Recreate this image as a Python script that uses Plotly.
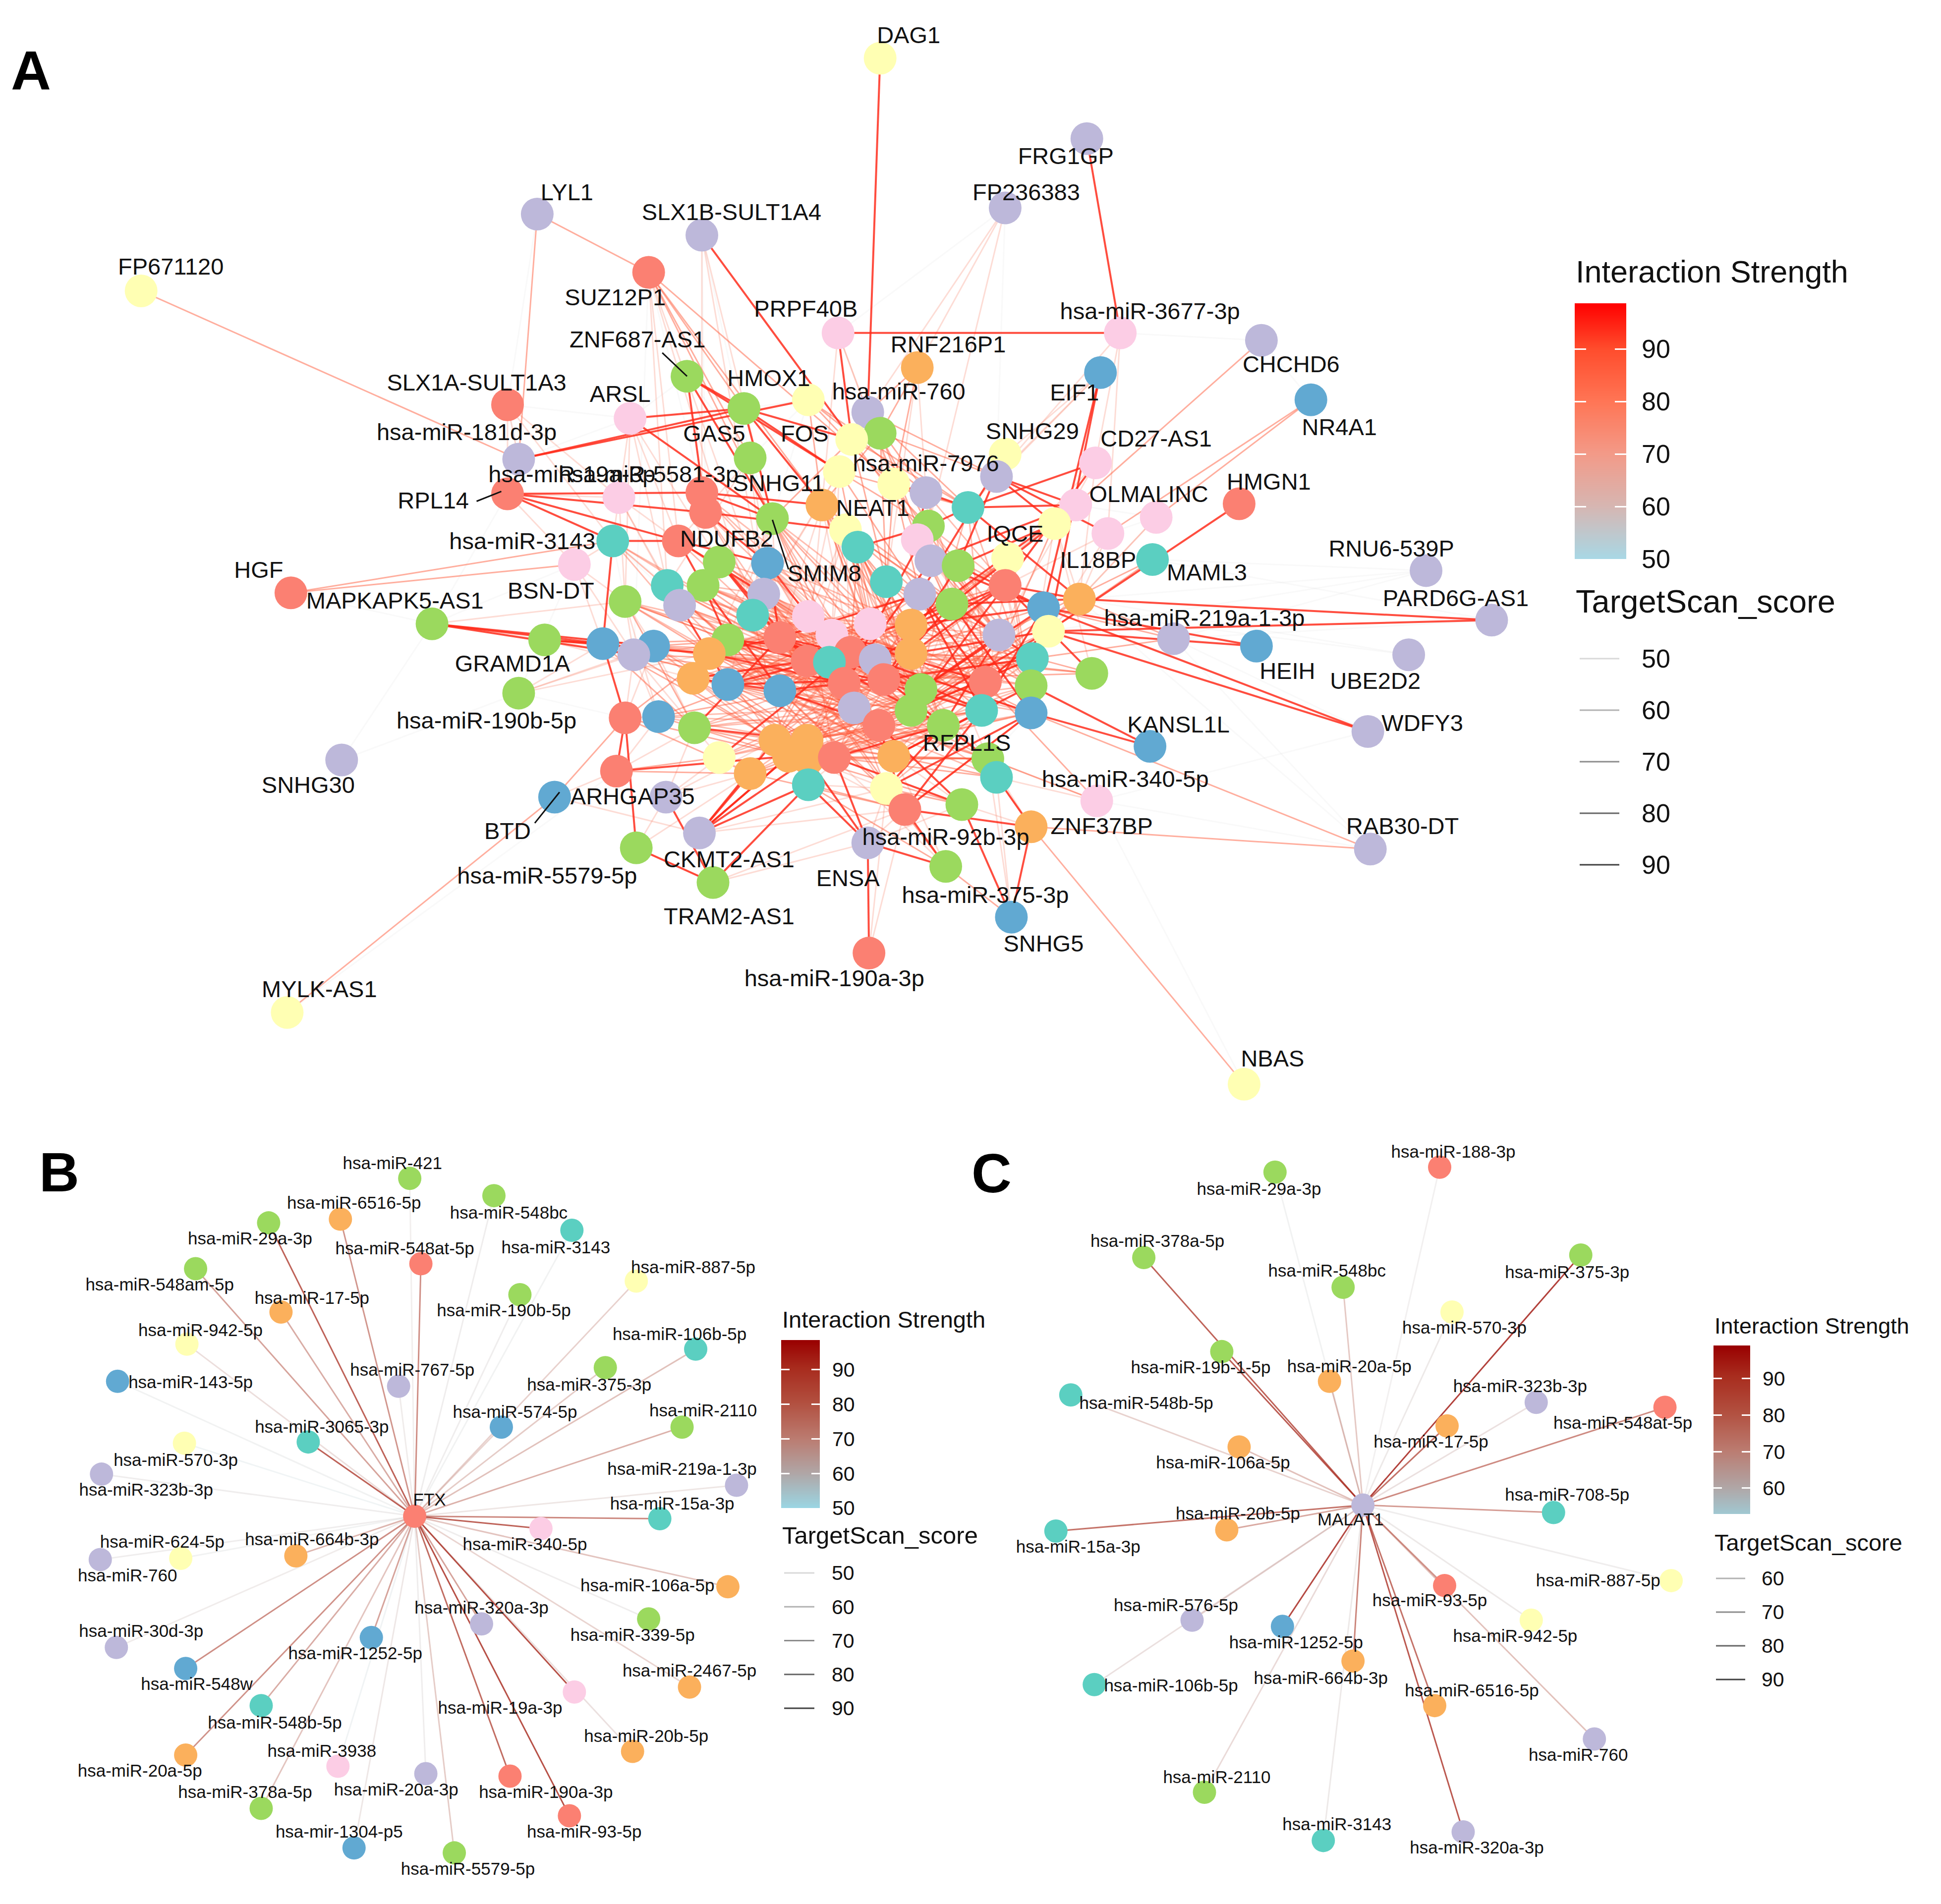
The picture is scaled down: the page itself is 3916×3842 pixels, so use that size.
#!/usr/bin/python3

import numpy
import plotly.graph_objs as go
from plotly.colors import sample_colorscale

WIDTH = 3916
HEIGHT = 3842
# the page keeps its default 8 px body margin, the figure fits inside it
PAGE_MARGIN = 8
FIG_W = WIDTH - 2 * PAGE_MARGIN
FIG_H = HEIGHT - 2 * PAGE_MARGIN
# node and label positions are read in a 1568 wide copy of the picture
VIEW_W = 1568
VIEW_H = 1538.3

GROUP_COLORS = dict(G = '#9BD95E', O = '#FBB05C', T = '#5BCFC1', B = '#61A9D2',
                    L = '#BDB8DA', P = '#FCCDE5', Y = '#FFFFB3', R = '#FB8072')

SCALE_A = [[0, '#A8D8E6'], [.206, '#D6B6B2'], [.412, '#F39A88'],
           [.618, '#FF7555'], [.823, '#FF4C2C'], [1, '#FF0000']]
SCALE_B = [[0, '#9AD6E4'], [.208, '#B0A6A6'], [.417, '#BB7B70'],
           [.625, '#B25040'], [.833, '#A82C1E'], [1, '#990000']]

# ---------------- panel A ----------------
A_X = [711, 434, 567, 524, 114, 878, 812, 677, 905, 1019, 889, 1059, 741, 555, 410, 509, 601, 653, 701, 711,
       688, 419, 606, 678, 812, 885, 805, 722, 748, 410, 500, 567, 570, 664, 782, 869, 1001, 934, 624, 852,
       750, 683, 895, 495, 548, 741, 693, 931, 752, 814, 774, 581, 620, 464, 1152, 539, 568, 716, 812, 235,
       617, 743, 872, 843, 505, 549, 769, 608, 653, 703, 349, 1205, 736, 847, 672, 807, 630, 948, 440, 588,
       487, 528, 1015, 687, 573, 512, 736, 1138, 834, 707, 652, 670, 882, 560, 714, 796, 682, 588, 833, 744,
       630, 419, 690, 736, 793, 833, 532, 505, 710, 762, 561, 1105, 626, 652, 929, 637, 653, 674, 722, 581,
       276, 798, 498, 606, 805, 653, 716, 448, 538, 886, 777, 731, 833, 565, 701, 514, 1107, 764, 576, 817,
       702, 232, 1005]
A_Y = [47, 173, 190, 220, 235, 112, 168, 269, 269, 275, 301, 323, 297, 304, 327, 338, 330, 323, 333, 350,
       355, 371, 370, 381, 367, 374, 385, 391, 398, 399, 402, 398, 414, 408, 410, 408, 407, 418, 419, 423,
       425, 428, 431, 437, 437, 436, 442, 452, 453, 451, 457, 454, 455, 456, 461, 473, 473, 470, 473, 479,
       480, 480, 484, 491, 486, 489, 488, 497, 498, 504, 504, 501, 505, 510, 513, 513, 515, 516, 517, 517,
       520, 522, 522, 527, 528, 529, 528, 529, 532, 533, 534, 535, 544, 548, 549, 551, 552, 553, 554, 557,
       558, 560, 572, 574, 574, 576, 579, 580, 586, 586, 588, 591, 598, 598, 603, 611, 613, 612, 611, 612,
       614, 613, 623, 625, 628, 634, 637, 644, 644, 647, 650, 654, 668, 673, 681, 685, 686, 700, 713, 741,
       770, 818, 876]
A_GROUP = list('YLLRYLLPPLBBOGRPGYLG'
               'YLGYYPLYLRPRROTPRPGY'
               'GYPTRPTTLYGGBPLTGTRR'
               'LLOBGLGTPPGLOYPLRLGG'
               'BBBROLOLTLRTGORRRBGG'
               'BGLGTBBRRGGLOOBOORO'
               'YLGROTTYBLPGROLLGLGGB'
               'RYY')

A_LABEL = ['DAG1', 'FRG1GP', 'FP236383', 'LYL1', 'SLX1B-SULT1A4', 'FP671120', 'SUZ12P1', 'PRPF40B',
           'hsa-miR-3677-3p', 'ZNF687-AS1', 'RNF216P1', 'CHCHD6', 'HMOX1', 'SLX1A-SULT1A3', 'ARSL', 'EIF1',
           'hsa-miR-760', 'NR4A1', 'hsa-miR-181d-3p', 'GAS5', 'FOS', 'CD27-AS1', 'SNHG29', 'hsa-miR-7976',
           'hsa-miR-19a-3p', 'hsa-miR-5581-3p', 'SNHG11', 'HMGN1', 'OLMALINC', 'RPL14', 'NEAT1', 'hsa-miR-3143',
           'NDUFB2', 'IQCE', 'IL18BP', 'RNU6-539P', 'SMIM8', 'MAML3', 'HGF', 'BSN-DT', 'MAPKAPK5-AS1',
           'PARD6G-AS1', 'hsa-miR-219a-1-3p', 'HEIH', 'GRAMD1A', 'UBE2D2', 'hsa-miR-190b-5p', 'WDFY3',
           'KANSL1L', 'RFPL1S', 'SNHG30', 'hsa-miR-340-5p', 'ARHGAP35', 'RAB30-DT', 'ZNF37BP', 'BTD',
           'hsa-miR-92b-3p', 'CKMT2-AS1', 'hsa-miR-5579-5p', 'ENSA', 'hsa-miR-375-3p', 'TRAM2-AS1', 'SNHG5',
           'hsa-miR-190a-3p', 'MYLK-AS1', 'NBAS']
A_LABEL_X = [734, 861, 829, 458, 591, 138, 497, 651, 929, 515, 766, 1043, 621, 385, 501, 868, 726, 1082, 377,
             577, 650, 934, 834, 748, 462, 524, 629, 1025, 928, 350, 705, 422, 587, 820, 887, 1124, 666, 975,
             209, 445, 319, 1176, 973, 1040, 414, 1111, 393, 1149, 952, 781, 249, 909, 511, 1133, 890, 410,
             764, 589, 442, 685, 796, 589, 843, 674, 258, 1028]
A_LABEL_Y = [30, 128, 157, 157, 173, 217, 242, 251, 253, 276, 280, 296, 307, 311, 320, 319, 318, 347, 351,
             352, 352, 356, 350, 376, 385, 385, 392, 391, 401, 406, 412, 439, 437, 433, 454, 445, 465, 464,
             462, 479, 487, 485, 501, 544, 538, 552, 584, 586, 587, 602, 636, 631, 645, 669, 669, 673,
             678, 696, 709, 711, 725, 742, 764, 792, 801, 857]

# label leader segments, from label to node
A_LEADER_X = [[535, 555], [385, 405], [624, 637], [432, 452]]
A_LEADER_Y = [[285, 304], [405, 397], [420, 460], [665, 640]]

# links by node index, hub: partners
A_LINKS_95 = {0: [18], 5: [8], 7: [8, 20], 2: [20], 10: [73, 63], 36: [73], 71: [73, 62], 82: [73, 63],
              111: [63, 73], 114: [105, 98], 70: [80, 81, 85], 78: [80, 84], 43: [80, 44], 80: [107],
              21: [16, 17], 15: [16, 38], 13: [16, 32, 38, 23], 16: [38, 33, 23, 20], 29: [31, 32, 43, 44],
              133: [112, 113, 115, 116, 123, 125], 128: [138], 140: [134], 134: [116, 125, 117],
              122: [115, 107], 31: [38, 33], 32: [52, 41], 44: [52, 56, 60], 51: [76, 90], 56: [79, 100],
              52: [68, 76], 65: [97], 79: [90, 83], 84: [76, 96], 93: [90, 100], 97: [83, 94], 100: [96, 108],
              110: [76, 113], 119: [83], 76: [89, 99, 109, 61], 74: [86, 95], 90: [66, 104],
              83: [104, 105, 121], 94: [50, 66, 88], 96: [40, 48], 58: [72, 86, 89, 103], 61: [95, 104],
              66: [88, 105], 75: [99, 109], 48: [63], 50: [63], 40: [34, 46], 34: [28, 35, 62], 28: [27, 45],
              26: [35, 42, 39], 24: [61, 50], 25: [34, 58], 35: [48, 72], 39: [50, 66], 62: [66, 58],
              63: [99, 104, 72], 73: [86, 95, 103], 88: [103], 92: [58], 98: [118], 104: [118, 131],
              105: [126, 131], 109: [117, 126], 108: [131, 130], 130: [117], 137: [131, 134],
              132: [131, 124], 139: [132, 130], 138: [125, 135], 135: [107]}
A_LINKS_78 = {60: [91, 102, 108, 99, 103], 61: [74, 76, 84, 97, 100, 117], 65: [90, 91, 102, 117, 94],
              67: [72, 91, 108, 115, 86], 68: [75, 103, 117, 88, 84], 69: [84, 93, 97, 100, 112, 113],
              72: [76, 84, 97, 90, 100, 115], 74: [97, 100, 112, 123], 75: [76, 91, 96, 102, 117, 118],
              76: [91, 118, 126, 103], 79: [72, 86, 94, 95, 118], 83: [93, 100, 112, 116], 84: [94, 95, 103, 112],
              86: [90, 91, 97, 117], 88: [96, 102, 108, 118], 89: [93, 97, 110, 112, 116], 90: [98, 103, 109, 118],
              91: [99, 104, 105, 109, 118], 93: [94, 108, 116], 94: [110, 115, 119, 123],
              95: [97, 100, 113, 116, 117], 96: [105, 109, 121, 124], 97: [103, 109, 116], 98: [102, 117, 108],
              99: [100, 112, 116, 123], 100: [103, 121, 124], 102: [110, 119, 121, 126], 103: [110, 115, 116, 119],
              104: [108, 113, 115, 126], 105: [115, 117, 123, 131], 106: [102, 108, 118], 108: [113, 119, 121],
              109: [112, 115, 123], 81: [90, 94, 96, 115], 85: [76, 100, 102], 64: [76, 96, 100], 55: [67, 79, 96],
              56: [60, 83, 86], 51: [72, 74, 83, 89], 44: [74, 83, 90, 94], 52: [72, 86, 89, 102], 32: [76, 90, 83],
              31: [74, 69, 89], 43: [76, 79, 90, 84], 38: [72, 86, 83], 33: [89, 94, 99], 41: [94, 99, 103],
              46: [94, 103, 109], 57: [88, 98, 103], 45: [66, 88, 98], 40: [75, 58, 88], 28: [58, 95, 66],
              34: [95, 98, 103], 49: [98, 105, 103]}
A_LINKS_75 = {4: [21], 1: [3, 21], 3: [16, 22, 33, 38, 27], 59: [43, 53], 141: [127], 142: [132], 11: [37, 42],
              9: [35], 12: [18, 27, 19], 17: [28, 33, 40, 34], 18: [28, 40, 34, 26, 45], 19: [33, 26, 48, 57],
              20: [38, 34, 57, 75], 23: [34, 40, 61, 69], 27: [34, 57, 61, 75], 33: [57, 69, 72, 86, 75],
              38: [69, 74, 89, 102], 41: [61, 66, 75, 89], 45: [58, 75, 95], 46: [72, 86, 99, 83],
              57: [66, 75, 95, 109], 60: [90, 96, 94, 86], 55: [76, 90, 83, 100], 56: [74, 89, 96],
              64: [79, 90, 84, 110], 67: [83, 94, 99], 68: [86, 99, 102, 95], 69: [104, 109, 95, 58],
              74: [99, 108, 103], 76: [102, 108, 131], 79: [102, 117, 108], 84: [89, 102, 118],
              85: [90, 96, 112], 81: [76, 83, 113], 80: [79, 84, 110, 112], 93: [102, 117],
              97: [117, 108, 118], 100: [118, 126, 131], 106: [90, 96, 115], 107: [115, 123, 84],
              110: [117, 118], 112: [94, 95, 103], 113: [95, 99, 104], 115: [109, 121], 116: [121, 130],
              117: [124, 121], 118: [121, 124], 123: [131, 108], 125: [131, 137], 126: [137, 130],
              72: [92, 98], 86: [92, 88, 105], 89: [98, 88, 105, 63], 83: [88, 92], 94: [92, 58],
              95: [73, 39], 99: [73, 62], 103: [62, 63], 49: [66, 72, 89], 47: [73, 75], 77: [63, 62, 88],
              129: [95, 121], 136: [132, 105], 127: [107], 122: [119, 123], 137: [139]}
A_LINKS_65 = {3: [44, 55, 60, 67], 2: [31, 38, 60], 6: [18, 12, 40], 14: [29, 21, 30, 43],
              15: [30, 44, 51, 64, 55], 30: [43, 44, 55, 64, 65], 53: [43, 64, 80, 85], 29: [53, 30],
              22: [44, 55, 60, 76], 23: [60, 67, 68, 74], 41: [68, 74, 90, 83], 33: [76, 90, 83, 94],
              38: [84, 79, 97, 100], 52: [83, 94, 96, 108], 60: [74, 83, 117], 67: [90, 102, 118],
              68: [94, 108, 109], 69: [99, 121, 124], 74: [102, 109, 103], 89: [95, 104, 121], 61: [103, 121],
              48: [75, 104, 98], 50: [95, 88, 104], 66: [103, 98], 75: [88, 98, 105], 58: [98, 105, 104],
              39: [62, 92, 88], 42: [62, 73, 58], 37: [62, 73], 35: [39, 49, 66], 25: [62, 49, 75],
              8: [25, 42, 34], 10: [34, 26, 24], 12: [40, 57], 7: [18, 33, 27], 64: [81, 85, 106],
              81: [97, 110, 107], 85: [106, 110, 107], 106: [107, 122], 110: [122, 128, 119],
              119: [128, 123], 123: [128, 135], 112: [128, 133], 125: [126, 108], 116: [126, 131],
              117: [130, 137], 118: [130, 137], 126: [134, 133], 124: [129, 132], 121: [129, 132],
              130: [134, 132], 131: [134, 133], 101: [85, 80, 84, 81], 78: [85, 93], 70: [78, 64],
              127: [122, 133], 135: [128, 138], 138: [134, 131], 140: [131, 126], 139: [121, 124]}
A_LINKS_52 = {2: [32, 22], 3: [85, 31], 6: [26, 7], 9: [8, 11], 14: [15, 21], 54: [62, 73, 77, 47],
              87: [63, 62], 136: [129, 62, 77], 120: [101, 70], 70: [29, 53], 101: [107, 53], 141: [122],
              1: [14], 15: [21, 13], 13: [22], 16: [17], 17: [22, 38], 22: [38], 43: [64, 55, 65],
              71: [77, 47], 82: [77], 111: [129, 77], 76: [60, 67], 90: [74, 68], 83: [69, 74], 96: [83, 102],
              94: [72, 86], 99: [103, 109], 104: [109, 98], 105: [121, 98], 72: [61, 50], 86: [66, 99],
              57: [61, 48], 45: [40, 48], 46: [41, 57], 26: [24, 34], 37: [35, 42], 142: [129], 59: [70]}

# ---------------- panel B ----------------
B_HUB = [335, 1225]
B_NAME = ['hsa-miR-421', 'hsa-miR-548bc', 'hsa-miR-6516-5p', 'hsa-miR-3143', 'hsa-miR-29a-3p', 'hsa-miR-548at-5p',
          'hsa-miR-887-5p', 'hsa-miR-548am-5p', 'hsa-miR-190b-5p', 'hsa-miR-17-5p', 'hsa-miR-942-5p',
          'hsa-miR-106b-5p', 'hsa-miR-143-5p', 'hsa-miR-375-3p', 'hsa-miR-767-5p', 'hsa-miR-574-5p', 'hsa-miR-2110',
          'hsa-miR-3065-3p', 'hsa-miR-570-3p', 'hsa-miR-323b-3p', 'hsa-miR-219a-1-3p', 'hsa-miR-15a-3p',
          'hsa-miR-340-5p', 'hsa-miR-664b-3p', 'hsa-miR-624-5p', 'hsa-miR-760', 'hsa-miR-106a-5p', 'hsa-miR-320a-3p',
          'hsa-miR-339-5p', 'hsa-miR-30d-3p', 'hsa-miR-1252-5p', 'hsa-miR-548w', 'hsa-miR-2467-5p', 'hsa-miR-19a-3p',
          'hsa-miR-548b-5p', 'hsa-miR-20b-5p', 'hsa-miR-3938', 'hsa-miR-20a-5p', 'hsa-miR-20a-3p', 'hsa-miR-190a-3p',
          'hsa-miR-378a-5p', 'hsa-miR-93-5p', 'hsa-mir-1304-p5', 'hsa-miR-5579-5p']
B_X = [331, 399, 275, 462, 217, 340, 514, 158, 420, 227, 151, 562, 95, 489, 322, 405, 551, 249, 149, 82, 595, 533,
       437, 239, 146, 81, 588, 389, 524, 94, 300, 150, 557, 464, 211, 511, 273, 150, 344, 412, 211, 460, 286, 367]
B_Y = [952, 966, 985, 994, 988, 1021, 1035, 1025, 1046, 1060, 1086, 1090, 1116, 1105, 1120, 1153, 1153, 1165, 1166,
       1191, 1200, 1227, 1235, 1257, 1259, 1260, 1282, 1312, 1308, 1331, 1323, 1348, 1363, 1367, 1378, 1415, 1427,
       1418, 1433, 1435, 1461, 1467, 1493, 1497]
B_GROUP = list('GGOTGRYGGOYTBGLBGTYLLTPOYLOLGLBBOPTOPOLRGRBG')
B_LABEL_X = [317, 411, 286, 449, 202, 327, 560, 129, 407, 252, 162, 549, 154, 476, 333, 416, 568, 260, 142, 118, 551,
             543, 424, 252, 131, 103, 523, 389, 511, 114, 287, 159, 557, 404, 222, 522, 260, 113, 320, 441, 198, 472,
             274, 378]
B_LABEL_Y = [941, 981, 973, 1009, 1002, 1010, 1025, 1039, 1060, 1050, 1076, 1079, 1118, 1120, 1108, 1142, 1141, 1154,
             1181, 1205, 1188, 1216, 1249, 1245, 1247, 1274, 1282, 1300, 1322, 1319, 1337, 1362, 1351, 1381, 1393,
             1404, 1416, 1432, 1447, 1449, 1449, 1481, 1481, 1511]
B_STRENGTH = [62, 60, 82, 58, 90, 86, 72, 80, 60, 78, 68, 74, 58, 72, 62, 70, 78, 90, 55, 60, 65, 84, 90, 76, 58, 60,
              74, 80, 60, 62, 80, 84, 70, 92, 78, 66, 56, 82, 60, 88, 74, 92, 64, 72]
B_SCORE = [50, 52, 75, 50, 85, 75, 60, 72, 52, 70, 56, 65, 50, 62, 52, 60, 68, 85, 50, 52, 54, 78, 85, 68, 50, 52,
           64, 72, 52, 52, 72, 76, 60, 88, 70, 56, 50, 76, 52, 84, 64, 88, 54, 62]

# ---------------- panel C ----------------
C_HUB = [1101, 1216]
C_NAME = ['hsa-miR-188-3p', 'hsa-miR-29a-3p', 'hsa-miR-378a-5p', 'hsa-miR-375-3p', 'hsa-miR-548bc', 'hsa-miR-570-3p',
          'hsa-miR-19b-1-5p', 'hsa-miR-20a-5p', 'hsa-miR-323b-3p', 'hsa-miR-548b-5p', 'hsa-miR-548at-5p',
          'hsa-miR-17-5p', 'hsa-miR-106a-5p', 'hsa-miR-708-5p', 'hsa-miR-20b-5p', 'hsa-miR-15a-3p', 'hsa-miR-887-5p',
          'hsa-miR-93-5p', 'hsa-miR-576-5p', 'hsa-miR-942-5p', 'hsa-miR-1252-5p', 'hsa-miR-664b-3p', 'hsa-miR-106b-5p',
          'hsa-miR-6516-5p', 'hsa-miR-760', 'hsa-miR-2110', 'hsa-miR-3143', 'hsa-miR-320a-3p']
C_X = [1163, 1030, 924, 1277, 1085, 1173, 987, 1074, 1241, 865, 1345, 1169, 1001, 1255, 991, 853, 1350, 1167, 963,
       1237, 1036, 1093, 884, 1159, 1288, 973, 1069, 1182]
C_Y = [943, 947, 1016, 1014, 1040, 1060, 1092, 1116, 1133, 1127, 1137, 1152, 1169, 1222, 1236, 1237, 1277, 1281, 1309,
       1309, 1314, 1342, 1361, 1378, 1405, 1448, 1487, 1480]
C_GROUP = list('RGGGGYGOLTROOTOTYRLYBOTOLGTL')
C_LABEL_X = [1174, 1017, 935, 1266, 1072, 1183, 970, 1090, 1228, 926, 1311, 1156, 988, 1266, 1000, 871, 1291, 1155,
             950, 1224, 1047, 1067, 946, 1189, 1275, 983, 1080, 1193]
C_LABEL_Y = [932, 962, 1004, 1029, 1028, 1074, 1106, 1105, 1121, 1135, 1151, 1166, 1183, 1209, 1224, 1251, 1278, 1294,
             1298, 1323, 1328, 1357, 1363, 1367, 1419, 1437, 1475, 1494]
C_STRENGTH = [60, 58, 90, 94, 74, 62, 92, 76, 66, 72, 86, 88, 76, 84, 80, 90, 60, 84, 68, 62, 94, 86, 66, 88, 76, 68,
              62, 92]
C_SCORE = [50, 50, 85, 90, 62, 54, 85, 66, 56, 60, 76, 82, 64, 72, 70, 80, 52, 74, 58, 54, 88, 78, 56, 82, 64, 58,
           54, 86]

LEGEND_TICKS = [50, 60, 70, 80, 90]
LEGEND_TICKS_C = [60, 70, 80, 90]


def links_to_xy(links):
    xs, ys = [], []
    for hub, partners in links.items():
        for p in partners:
            xs += [A_X[hub], A_X[p], None]
            ys += [A_Y[hub], A_Y[p], None]
    return xs, ys


def score_alpha(score):
    return (score - 40) / 60


def edge_color(strength, score, scale, top):
    rgb = sample_colorscale(scale, [(strength - 50) / (top - 50)], colortype = 'rgb')[0]
    return rgb.replace('rgb(', 'rgba(').replace(')', ', %.2f)' % score_alpha(score))


def text_trace(x, y, text, size):
    return go.Scatter(x = x, y = y, text = text, mode = 'text', textposition = 'middle center',
                      textfont = dict(family = 'Liberation Sans', size = size, color = '#111111'),
                      hoverinfo = 'skip')


def node_trace(x, y, groups, size):
    return go.Scatter(x = x, y = y, mode = 'markers', hoverinfo = 'skip',
                      marker = dict(size = size, color = [GROUP_COLORS[g] for g in groups],
                                    line = dict(width = 0)))


def star_traces(hub, xs, ys, strengths, scores, scale, top):
    traces = []
    order = numpy.argsort(scores)
    for i in order:
        traces.append(go.Scatter(x = [hub[0], xs[i]], y = [hub[1], ys[i]], mode = 'lines', hoverinfo = 'skip',
                                 line = dict(width = 3, color = edge_color(strengths[i], scores[i], scale, top))))
    return traces


def paper_x(px):
    return (px - PAGE_MARGIN) / FIG_W


def paper_y(py):
    return 1 - (py - PAGE_MARGIN) / FIG_H


def dom_x(left, right):
    return [paper_x(left), paper_x(right)]


def dom_y(top, bottom):
    return [paper_y(bottom), paper_y(top)]


fig = go.Figure()

# panel A links, weak first
for links, strength, score, width in [(A_LINKS_52, 56, 46, 3), (A_LINKS_65, 74, 58, 3), (A_LINKS_78, 86, 64, 3),
                                      (A_LINKS_75, 86, 70, 3), (A_LINKS_95, 94, 90, 4)]:
    lx, ly = links_to_xy(links)
    fig.add_trace(go.Scatter(x = lx, y = ly, mode = 'lines', hoverinfo = 'skip',
                             line = dict(width = width, color = edge_color(strength, score, SCALE_A, 98.7))))

fig.add_trace(node_trace(A_X, A_Y, A_GROUP, 66))
for lead_x, lead_y in zip(A_LEADER_X, A_LEADER_Y):
    fig.add_trace(go.Scatter(x = lead_x, y = lead_y, mode = 'lines', hoverinfo = 'skip',
                             line = dict(width = 3, color = '#111111')))
fig.add_trace(text_trace(A_LABEL_X, A_LABEL_Y, A_LABEL, 47))

# panels B and C
for trace in star_traces(B_HUB, B_X, B_Y, B_STRENGTH, B_SCORE, SCALE_B, 98.6):
    fig.add_trace(trace)
fig.add_trace(node_trace(B_X + B_HUB[:1], B_Y + B_HUB[1:], B_GROUP + ['R'], 47))
fig.add_trace(text_trace(B_LABEL_X + [347], B_LABEL_Y + [1213], B_NAME + ['FTX'], 35))

for trace in star_traces(C_HUB, C_X, C_Y, C_STRENGTH, C_SCORE, SCALE_B, 99.1):
    fig.add_trace(trace)
fig.add_trace(node_trace(C_X + C_HUB[:1], C_Y + C_HUB[1:], C_GROUP + ['L'], 47))
fig.add_trace(text_trace(C_LABEL_X + [1091], C_LABEL_Y + [1229], C_NAME + ['MALAT1'], 35))

view_per_px_x = VIEW_W / WIDTH
view_per_px_y = VIEW_H / HEIGHT
# the default template turns automargin on, which would shrink the plot area
layout = dict(width = FIG_W, height = FIG_H, margin = dict(l = 0, r = 0, t = 0, b = 0, autoexpand = False),
              paper_bgcolor = 'white', plot_bgcolor = 'white', showlegend = False,
              font = dict(family = 'Liberation Sans', color = '#111111'),
              xaxis = dict(range = [PAGE_MARGIN * view_per_px_x, (WIDTH - PAGE_MARGIN) * view_per_px_x],
                           visible = False, domain = [0, 1], automargin = False),
              yaxis = dict(range = [(HEIGHT - PAGE_MARGIN) * view_per_px_y, PAGE_MARGIN * view_per_px_y],
                           visible = False, domain = [0, 1], automargin = False))
annotations = []
axis_n = [2]


def add_title(left, y, text, size):
    annotations.append(dict(x = paper_x(left), y = paper_y(y), xref = 'paper', yref = 'paper',
                            xanchor = 'left', yanchor = 'middle', showarrow = False, text = text,
                            font = dict(size = size)))


def add_colorbar(box, low, high, ticks, scale, tick_size, tick_len, standoff, title, title_y, title_size):
    n = axis_n[0]
    axis_n[0] += 1
    levels = numpy.linspace(low, high, 120)
    fig.add_trace(go.Heatmap(x = [0], y = levels, z = [[v] for v in levels], colorscale = scale, zmin = 50,
                             zmax = high, showscale = False, xaxis = 'x%d' % n, yaxis = 'y%d' % n,
                             hoverinfo = 'skip', zsmooth = 'best'))
    layout['xaxis%d' % n] = dict(domain = dom_x(box[0], box[1]), range = [-.5, .5], visible = False,
                                 anchor = 'y%d' % n, automargin = False)
    layout['yaxis%d' % n] = dict(domain = dom_y(box[2], box[3]), range = [low, high], side = 'right',
                                 anchor = 'x%d' % n, tickvals = ticks, ticks = 'inside', ticklen = tick_len,
                                 tickwidth = 3, tickcolor = 'white', mirror = 'ticks', showgrid = False,
                                 zeroline = False, showline = False, ticklabelstandoff = standoff,
                                 automargin = False,
                                 tickfont = dict(size = tick_size, family = 'Liberation Sans', color = '#111111'))
    add_title(box[0], title_y, title, title_size)


def add_score_keys(left, right, first_y, last_y, ticks, tick_size, standoff, title, title_x, title_y, title_size):
    n = axis_n[0]
    axis_n[0] += 1
    step = (last_y - first_y) / (ticks[-1] - ticks[0])
    for s in ticks:
        fig.add_trace(go.Scatter(x = [0, 1], y = [s, s], mode = 'lines', hoverinfo = 'skip',
                                 xaxis = 'x%d' % n, yaxis = 'y%d' % n,
                                 line = dict(width = 3, color = 'rgba(0, 0, 0, %.2f)' % (score_alpha(s) * .9))))
    layout['xaxis%d' % n] = dict(domain = dom_x(left, right), range = [0, 1], visible = False, anchor = 'y%d' % n,
                                 automargin = False)
    layout['yaxis%d' % n] = dict(domain = dom_y(first_y - 5 * step, last_y + 5 * step),
                                 range = [ticks[-1] + 5, ticks[0] - 5], side = 'right', anchor = 'x%d' % n,
                                 tickvals = ticks, ticks = '', showgrid = False, zeroline = False,
                                 showline = False, ticklabelstandoff = standoff, automargin = False,
                                 tickfont = dict(size = tick_size, family = 'Liberation Sans', color = '#111111'))
    add_title(title_x, title_y, title, title_size)


add_colorbar((3177, 3281, 612, 1128), 50, 98.7, LEGEND_TICKS, SCALE_A, 52, 23, 30,
             'Interaction Strength', 548, 63)
add_score_keys(3187, 3267, 1329, 1745, LEGEND_TICKS, 52, 44, 'TargetScan_score', 3177, 1213, 65)
add_colorbar((1576, 1654, 2704, 3043), 50, 98.6, LEGEND_TICKS, SCALE_B, 41, 17, 24,
             'Interaction Strength', 2662, 47)
add_score_keys(1582, 1643, 3174, 3447, LEGEND_TICKS, 41, 34, 'TargetScan_score', 1576, 3098, 49)
add_colorbar((3457, 3531, 2715, 3055), 52.9, 99.1, LEGEND_TICKS_C, SCALE_B, 41, 17, 24,
             'Interaction Strength', 2675, 45)
add_score_keys(3462, 3521, 3185, 3389, LEGEND_TICKS_C, 41, 32, 'TargetScan_score', 3457, 3112, 47)

for letter, lx, ly in [('A', 25, 57), ('B', 48, 947), ('C', 801, 948)]:
    annotations.append(dict(x = paper_x(lx / view_per_px_x), y = paper_y(ly / view_per_px_y),
                            xref = 'paper', yref = 'paper', xanchor = 'center', yanchor = 'middle',
                            showarrow = False, text = '<b>%s</b>' % letter,
                            font = dict(size = 112, color = 'black')))

layout['annotations'] = annotations
fig.update_layout(**layout)

fig.write_html('out.html')
